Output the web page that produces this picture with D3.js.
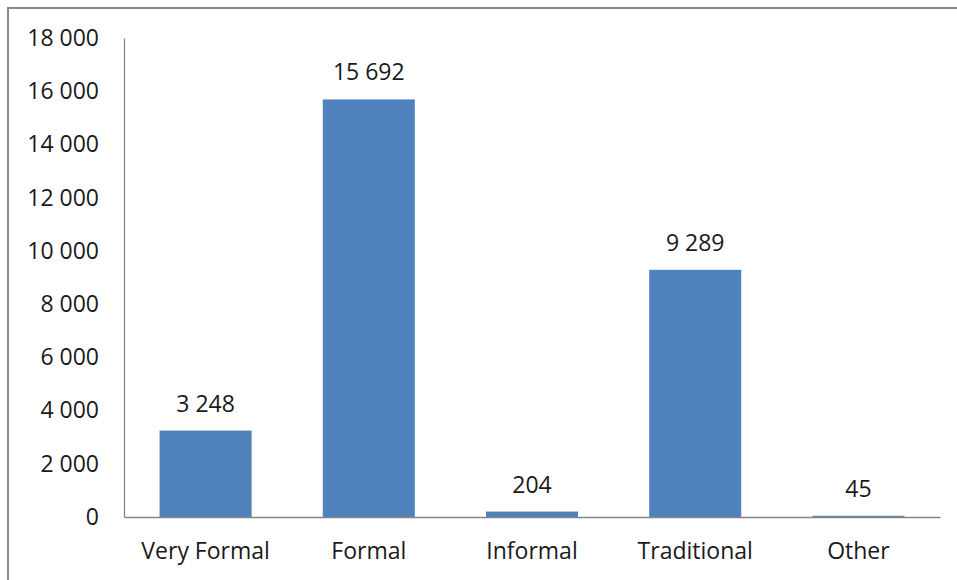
<!DOCTYPE html>
<html><head><meta charset="utf-8">
<script src="https://cdn.jsdelivr.net/npm/d3@7"></script>
<style>html,body{margin:0;padding:0;background:#fff;overflow:hidden}</style>
</head><body>
<svg id="chart" width="957" height="580"></svg>
<script>
const categories = ["Very Formal", "Formal", "Informal", "Traditional", "Other"];
const values = [3248, 15692, 204, 9289, 45];
const yTicks = [0, 2000, 4000, 6000, 8000, 10000, 12000, 14000, 16000, 18000];

const svg = d3.select("#chart");
const font = "'Open Sans', sans-serif";
const fmt = v => d3.format(",")(v).replace(/,/g, " ");

// frame (only top/left visible)
svg.append("rect").attr("x", 8).attr("y", 8).attr("width", 1000).attr("height", 1000)
  .attr("fill", "none").attr("stroke", "#8a8a8a").attr("stroke-width", 2);

const x = d3.scaleBand().domain(categories).range([124, 940]).paddingInner(0.436).paddingOuter(0.218);
const y = d3.scaleLinear().domain([0, 18000]).range([517, 38]);

svg.append("g").selectAll("rect").data(values).join("rect")
  .attr("x", (d, i) => x(categories[i]))
  .attr("width", x.bandwidth())
  .attr("y", d => y(d))
  .attr("height", d => y(0) - y(d))
  .attr("fill", "#4f81bd");

const yAxis = svg.append("g").attr("transform", "translate(124,0)")
  .call(d3.axisLeft(y).tickValues(yTicks).tickFormat(fmt).tickSize(0).tickPadding(25));
yAxis.select(".domain").attr("stroke", "#868686").attr("stroke-width", 1.3);
yAxis.selectAll("text").attr("font-family", font).attr("font-size", 23).attr("fill", "#1a1a1a");

const xAxis = svg.append("g").attr("transform", "translate(0,517)")
  .call(d3.axisBottom(x).tickSize(0).tickPadding(26));
xAxis.select(".domain").attr("stroke", "#868686").attr("stroke-width", 1.3);
xAxis.selectAll("text").attr("font-family", font).attr("font-size", 23).attr("fill", "#1a1a1a");

svg.append("g").selectAll("text").data(values).join("text")
  .attr("x", (d, i) => x(categories[i]) + x.bandwidth() / 2)
  .attr("y", d => y(d) - 19)
  .attr("text-anchor", "middle")
  .attr("font-family", font).attr("font-size", 23).attr("fill", "#1a1a1a")
  .text(fmt);
</script>
</body></html>
